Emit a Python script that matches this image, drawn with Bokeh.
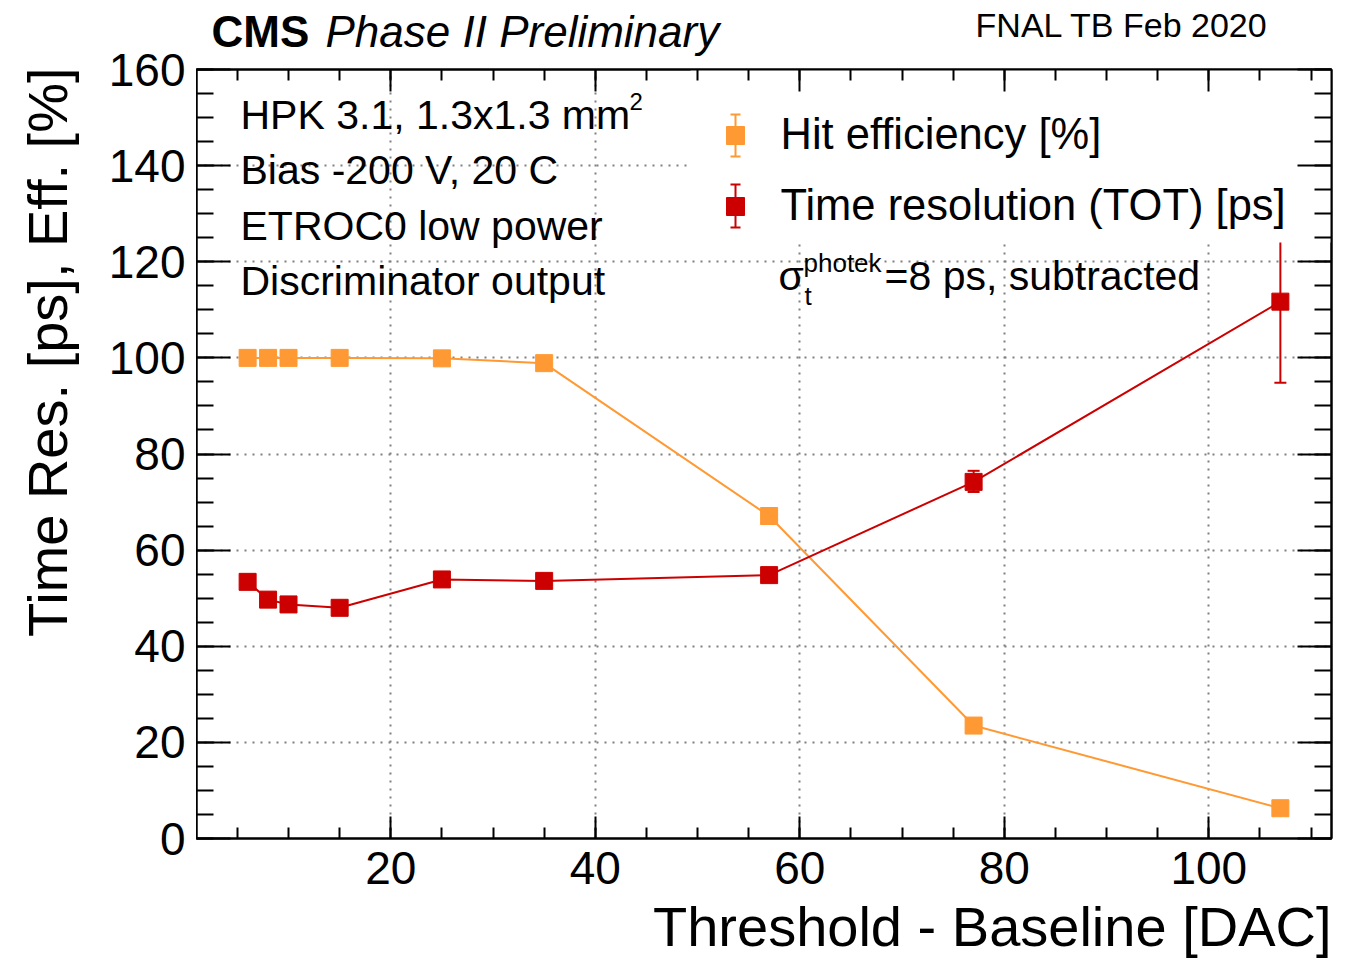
import math
from bokeh.plotting import figure
from bokeh.layouts import column, row
from bokeh.models import (LinearAxis, SingleIntervalTicker, Label, Whisker, TeeHead,
                          ColumnDataSource, BoxAnnotation, Range1d)
from bokeh.embed import file_html
from bokeh.resources import INLINE

# ---------------- data ----------------
threshold = [6, 8, 10, 15, 25, 35, 57, 77, 107]
efficiency = [100.0, 100.0, 100.0, 100.0, 99.9, 98.9, 67.1, 23.5, 6.3]
time_res = [53.4, 49.7, 48.7, 48.0, 53.9, 53.6, 54.8, 74.2, 111.7]
time_err_up = [1.0, 1.0, 1.0, 1.0, 1.0, 1.0, 1.0, 2.3, 12.6]
time_err_dn = [1.0, 1.0, 1.0, 1.0, 1.0, 1.0, 1.0, 2.1, 16.9]

x_ticks_major = 20
y_ticks_major = 20

ORANGE = "#FF9933"
RED = "#CC0000"
FONT = "Liberation Sans"

XMIN, XMAX, YMIN, YMAX = 1, 112, 0, 160
# page-pixel geometry
W, H = 1352, 958
TOP_H = 60          # top strip height (above the frame, right column)
YT_W = 90           # strip holding the y-axis title
FL, FR, FT, FB = 196, 1331, 69, 838   # frame edges (page px)
MAIN_B = 902        # bottom of main figure (page y)
K = 0.355           # baseline -> label anchor shift (fraction of font size)


def X(px):
    return XMIN + (px - FL) * (XMAX - XMIN) / (FR - FL)


def Y(py):
    return YMIN + (FB - py) * (YMAX - YMIN) / (FB - FT)


def strip(width, height, xr, yr):
    # xr / yr: page-pixel extent that the (layout-aligned) frame of this strip covers
    f = figure(width=width, height=height, x_range=Range1d(*xr),
               y_range=Range1d(yr[1], yr[0]), x_axis_type=None, y_axis_type=None,
               title=None, output_backend="svg", toolbar_location=None, min_border=0)
    f.outline_line_color = None
    f.background_fill_color = "white"
    f.border_fill_color = "white"
    return f


def txt(fig, text, x, y, size, style="normal", align="left", angle=0.0):
    fig.add_layout(Label(x=x, y=y, text=text, text_font=FONT,
                         text_font_size=f"{size}px", text_font_style=style,
                         text_align=align, text_baseline="alphabetic", angle=angle,
                         text_color="black"))


xt = SingleIntervalTicker(interval=x_ticks_major, num_minor_ticks=4)
yt = SingleIntervalTicker(interval=y_ticks_major, num_minor_ticks=4)


def style_axis(ax, tin, tmin, labels=True):
    ax.axis_line_color = "black"
    ax.axis_line_width = 2
    ax.major_tick_in = tin
    ax.major_tick_out = 0
    ax.minor_tick_in = tmin
    ax.minor_tick_out = 0
    ax.major_tick_line_width = 2
    ax.minor_tick_line_width = 2
    ax.major_tick_line_color = "black"
    ax.minor_tick_line_color = "black"
    if labels:
        ax.major_label_text_font = FONT
        ax.major_label_text_font_size = "46px"
        ax.major_label_text_color = "black"
    else:
        ax.major_label_text_font_size = "0px"
        ax.major_label_text_color = None
        ax.major_label_standoff = 0


# ---------------- main plot (frame + data) ----------------
main_w = W - FL
main_h = MAIN_B - TOP_H
p = figure(width=main_w, height=main_h, x_range=Range1d(XMIN, XMAX), y_range=Range1d(YMIN, YMAX),
           title=None, output_backend="svg", toolbar_location=None,
           min_border_left=0, min_border_right=W - FR,
           min_border_top=FT - TOP_H, min_border_bottom=MAIN_B - FB)
p.background_fill_color = "white"
p.border_fill_color = "white"
p.outline_line_color = "black"
p.outline_line_width = 2

p.xaxis.ticker = xt
p.yaxis.ticker = yt
style_axis(p.xaxis[0], 22, 11)
style_axis(p.yaxis[0], 34, 17, labels=False)
p.xaxis.major_label_standoff = 13

top_ax = LinearAxis(ticker=xt)
style_axis(top_ax, 22, 11, labels=False)
p.add_layout(top_ax, "above")
right_ax = LinearAxis(ticker=yt)
style_axis(right_ax, 34, 17, labels=False)
p.add_layout(right_ax, "right")

for g in (p.xgrid, p.ygrid):
    g.grid_line_color = "#808080"
    g.grid_line_width = 2
    g.grid_line_dash = "2 6"
p.xgrid.ticker = xt
p.ygrid.ticker = yt

# error bars (underlay, partially hidden by legend box like the original)
src = ColumnDataSource(dict(x=threshold, y=time_res,
                            up=[v + e for v, e in zip(time_res, time_err_up)],
                            dn=[v - e for v, e in zip(time_res, time_err_dn)]))
wh = Whisker(source=src, base="x", upper="up", lower="dn", dimension="height",
             line_color=RED, line_width=2,
             upper_head=TeeHead(size=12, line_color=RED, line_width=2),
             lower_head=TeeHead(size=12, line_color=RED, line_width=2))
p.add_layout(wh)

legend_box = BoxAnnotation(left=X(690), right=XMAX, bottom=Y(242), top=YMAX,
                           fill_color="white", fill_alpha=1.0, line_color=None, level="underlay")
p.add_layout(legend_box)

# data
p.line(threshold, efficiency, line_color=ORANGE, line_width=2)
p.scatter(threshold, efficiency, marker="square", size=17, fill_color=ORANGE, line_color=ORANGE)
p.line(threshold, time_res, line_color=RED, line_width=2)
p.scatter(threshold, time_res, marker="square", size=17, fill_color=RED, line_color=RED)

# legend (manual)
for color, cy, top_py, bot_py in ((ORANGE, 135, 114, 156), (RED, 206, 184, 227)):
    lsrc = ColumnDataSource(dict(x=[X(735)], u=[Y(top_py)], l=[Y(bot_py)]))
    lw = Whisker(source=lsrc, base="x", upper="u", lower="l", dimension="height",
                 line_color=color, line_width=2, level="overlay",
                 upper_head=TeeHead(size=10, line_color=color, line_width=2),
                 lower_head=TeeHead(size=10, line_color=color, line_width=2))
    p.add_layout(lw)
    p.scatter([X(735)], [Y(cy)], marker="square", size=18, fill_color=color, line_color=color)


def ptxt(text, px, base_py, size, style="normal", align="left"):
    txt(p, text, X(px), Y(base_py - K * size), size, style, align)


ptxt("Hit efficiency [%]", 780, 149, 43.5)
ptxt("Time resolution (TOT) [ps]", 780, 220, 43.5)
ptxt("\u03c3", 778, 290, 41)
ptxt("photek", 803, 272, 26)
ptxt("t", 804, 305, 26)
ptxt("=8 ps, subtracted", 884, 290, 41)

ptxt("HPK 3.1, 1.3x1.3 mm", 240, 129, 41)
ptxt("2", 629, 110, 24)
ptxt("Bias -200 V, 20 C", 240, 184, 41)
ptxt("ETROC0 low power", 240, 240, 41)
ptxt("Discriminator output", 240, 295, 41)

# ---------------- y tick labels (own figure sharing the y scale) ----------------
ML_W = FL - YT_W
ml = figure(width=ML_W, height=H, x_range=Range1d(0, 1), y_range=p.y_range,
            x_axis_type=None, title=None, output_backend="svg", toolbar_location=None,
            min_border_left=ML_W - 6, min_border_right=0,
            min_border_top=FT, min_border_bottom=H - FB)
ml.outline_line_color = None
ml.background_fill_color = "white"
ml.border_fill_color = "white"
ml.grid.visible = False
ml.yaxis.ticker = yt
yax = ml.yaxis[0]
yax.axis_line_color = None
yax.major_tick_line_color = None
yax.minor_tick_line_color = None
yax.major_tick_in = 0
yax.major_tick_out = 0
yax.minor_tick_in = 0
yax.minor_tick_out = 0
yax.major_label_text_font = FONT
yax.major_label_text_font_size = "46px"
yax.major_label_text_color = "black"
yax.major_label_standoff = 5

# ---------------- strips with outer texts ----------------
# the layout aligns this strip's frame with the frames beside it (page y FT..FB)
yt_fig = strip(YT_W, H, (0, YT_W), (FT, FB))
txt(yt_fig, "Time Res. [ps], Eff. [%]", 67 - K * 56, 67, 56, align="right", angle=math.pi / 2)

# these strips get their frames aligned with the main frame (page x FL..FR)
top_fig = strip(main_w, TOP_H, (FL, FR), (0, TOP_H))
txt(top_fig, "CMS", 211, 47 - K * 44, 44, style="bold")
txt(top_fig, "Phase II Preliminary", 325, 47 - K * 44, 44, style="italic")
txt(top_fig, "FNAL TB Feb 2020", 1268, 37 - K * 34, 34, align="right")

bottom_fig = strip(main_w, H - MAIN_B, (FL, FR), (MAIN_B, H))
txt(bottom_fig, "Threshold - Baseline [DAC]", 1331, 946 - K * 56, 56, align="right")

layout = row(yt_fig, ml, column(top_fig, p, bottom_fig))

open("out.html", "w").write(file_html(layout, INLINE))
